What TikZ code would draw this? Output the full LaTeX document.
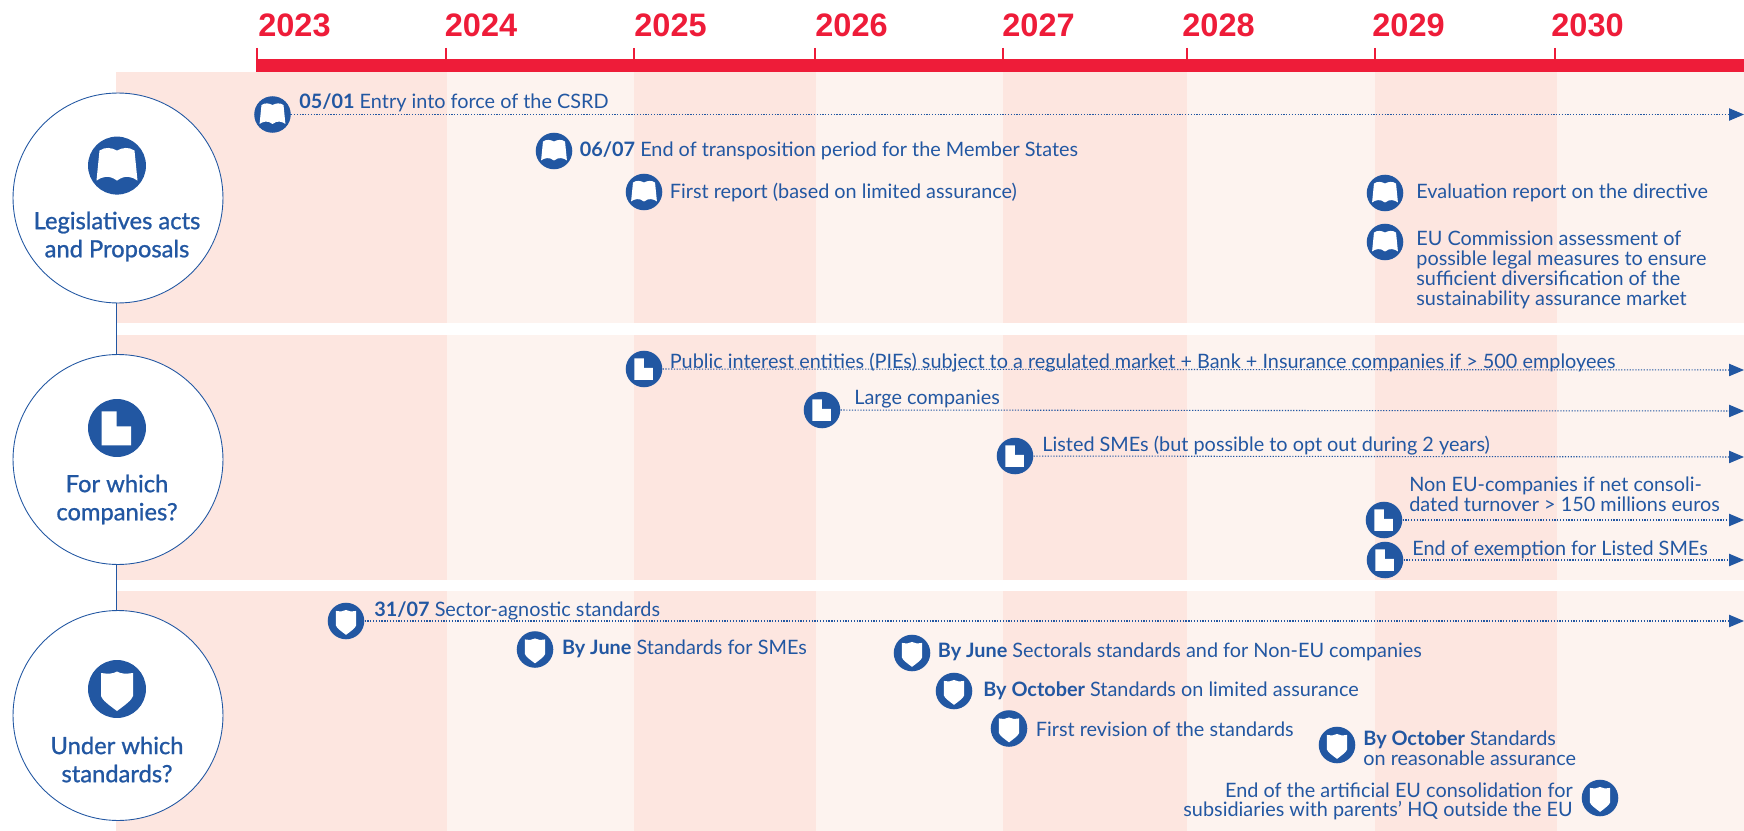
\documentclass[tikz,border=0pt]{standalone}
\usepackage{fontspec}
\setmainfont{Lato}
\newfontfamily\yearfont{Liberation Sans}
\newfontfamily\topicfont[FakeBold=1]{Lato}
\usepackage{tikz}
\usetikzlibrary{arrows.meta}
\usepackage{xcolor}
\definecolor{csrdblue}{HTML}{2257A2}
\definecolor{csrdred}{HTML}{EE1C39}
\definecolor{banddark}{HTML}{FDE6E0}
\definecolor{bandlight}{HTML}{FDF3EF}
\tikzstyle{arrow} = [csrdblue,line width=0.6pt,dash pattern=on 0.7pt off 0.9pt,-{Triangle[length=8.5pt,width=7pt]}]
\tikzstyle{tick} = [csrdred,line width=1.3pt]
\tikzstyle{year} = [text=csrdred,font=\yearfont\bfseries\fontsize{18.5}{20}\selectfont,anchor=west,inner sep=0pt]
\tikzstyle{note} = [text=csrdblue,font=\fontsize{11.3}{11.3}\selectfont,anchor=west,align=left,inner sep=0pt,yshift=0.6pt]
\tikzstyle{topic} = [circle,draw=csrdblue,fill=white,line width=0.5pt,minimum size=119.5pt,inner sep=0pt]
\tikzstyle{topiclabel} = [text=csrdblue,font=\topicfont\fontsize{13.5}{16}\selectfont,align=center,inner sep=0pt]
\tikzstyle{dot} = [circle,fill=csrdblue,minimum size=20.8pt,inner sep=0pt]
\tikzstyle{bigdot} = [circle,fill=csrdblue,minimum size=33pt,inner sep=0pt]
\tikzset{
  bookicon/.pic={\fill[white] (-17.5,-15) .. controls (-12,-19) and (-5,-18) .. (0,-15)
    .. controls (5,-18) and (12,-19) .. (17.5,-15) -- (20.5,15)
    .. controls (15,11) and (8,9) .. (0,15) .. controls (-8,9) and (-15,11) .. (-20.5,15) -- cycle;},
  blockicon/.pic={\fill[white] (-15.3,-16.7) -- (-0.3,-16.7) -- (-0.3,-1.7) -- (14,-1.7)
    -- (14,17.3) -- (-15.3,17.3) -- cycle;},
  shieldicon/.pic={\fill[white] (-16,-16) .. controls (-9,-15) and (-4,-15) .. (0,-17.5)
    .. controls (4,-15) and (9,-15) .. (16,-16) -- (16,7) .. controls (15,11) and (8,16) .. (0,22)
    .. controls (-8,16) and (-15,11) .. (-16,7) -- cycle;},
  small/.style={scale=0.63}
}

\begin{document}
\begin{tikzpicture}[x=0.02cm,y=-0.02cm]
    \useasboundingbox (0,0) rectangle (1744,831);

    % Bands
    \fill[banddark] (116,72) rectangle (447,323);
    \fill[bandlight] (447,72) rectangle (634,323);
    \fill[banddark] (634,72) rectangle (816,323);
    \fill[bandlight] (816,72) rectangle (1003,323);
    \fill[banddark] (1003,72) rectangle (1187,323);
    \fill[bandlight] (1187,72) rectangle (1375,323);
    \fill[banddark] (1375,72) rectangle (1557,323);
    \fill[bandlight] (1557,72) rectangle (1744,323);

    \fill[banddark] (116,335) rectangle (447,580);
    \fill[bandlight] (447,335) rectangle (634,580);
    \fill[banddark] (634,335) rectangle (816,580);
    \fill[bandlight] (816,335) rectangle (1003,580);
    \fill[banddark] (1003,335) rectangle (1187,580);
    \fill[bandlight] (1187,335) rectangle (1375,580);
    \fill[banddark] (1375,335) rectangle (1557,580);
    \fill[bandlight] (1557,335) rectangle (1744,580);

    \fill[banddark] (116,591) rectangle (447,831);
    \fill[bandlight] (447,591) rectangle (634,831);
    \fill[banddark] (634,591) rectangle (816,831);
    \fill[bandlight] (816,591) rectangle (1003,831);
    \fill[banddark] (1003,591) rectangle (1187,831);
    \fill[bandlight] (1187,591) rectangle (1375,831);
    \fill[banddark] (1375,591) rectangle (1557,831);
    \fill[bandlight] (1557,591) rectangle (1744,831);

    % Red axis
    \fill[csrdred] (257,59) rectangle (1744,72);
    \draw[tick] (257,48) -- (257,72);
    \draw[tick] (446,48) -- (446,72);
    \draw[tick] (634,48) -- (634,72);
    \draw[tick] (815,48) -- (815,72);
    \draw[tick] (1003,48) -- (1003,72);
    \draw[tick] (1187,48) -- (1187,72);
    \draw[tick] (1375,48) -- (1375,72);
    \draw[tick] (1555,48) -- (1555,72);
    \node[year] (y2023) at (258,25) {2023};
    \node[year] (y2024) at (444.5,25) {2024};
    \node[year] (y2025) at (634,25) {2025};
    \node[year] (y2026) at (815,25) {2026};
    \node[year] (y2027) at (1002,25) {2027};
    \node[year] (y2028) at (1182,25) {2028};
    \node[year] (y2029) at (1372,25) {2029};
    \node[year] (y2030) at (1551,25) {2030};

    % Left circles
    \node[topic] (legal) at (118,198) {};
    \node[topic] (companies) at (118,459.5) {};
    \node[topic] (standards) at (118,715.5) {};
    \draw[csrdblue,line width=0.5pt] ([xshift=-1pt]legal.south) -- ([xshift=-1pt]companies.north);
    \draw[csrdblue,line width=0.5pt] ([xshift=-1pt]companies.south) -- ([xshift=-1pt]standards.north);

    \node[bigdot] (legalicon) at (117,165.6) {};
    \pic at (legalicon) {bookicon};
    \node[topiclabel] (legaltext) at (117,236.5) {Legislatives acts\\and Proposals};
    \node[bigdot] (companiesicon) at (117,428) {};
    \pic at (companiesicon) {blockicon};
    \node[topiclabel] (companiestext) at (117,499.5) {For which\\companies?};
    \node[bigdot] (standardsicon) at (117,689) {};
    \pic at (standardsicon) {shieldicon};
    \node[topiclabel] (standardstext) at (117,759.5) {Under which\\standards?};

    % Legislative acts
    \coordinate (a1end) at (1744,114.5);
    \node[dot] (a1) at (272.5,114.5) {};
    \pic[small] at (a1) {bookicon};
    \draw[arrow] (a1) -- (a1end);
    \node[note] (a1text) at (299,104) {\textbf{05/01} Entry into force of the CSRD};

    \node[dot] (a2) at (554,151) {};
    \pic[small] at (a2) {bookicon};
    \node[note] (a2text) at (579.5,152) {\textbf{06/07} End of transposition period for the Member States};

    \node[dot] (a3) at (644,192) {};
    \pic[small] at (a3) {bookicon};
    \node[note] (a3text) at (669.5,193.5) {First report (based on limited assurance)};

    \node[dot] (a4) at (1385,193) {};
    \pic[small] at (a4) {bookicon};
    \node[note] (a4text) at (1416,194) {Evaluation report on the directive};

    \node[dot] (a5) at (1385,242) {};
    \pic[small] at (a5) {bookicon};
    \node[note] (a5text) at (1416,271) {EU Commission assessment of\\possible legal measures to ensure\\sufficient diversification of the\\sustainability assurance market};

    % Companies
    \coordinate (b1end) at (1744,370);
    \node[dot] (b1) at (644,369) {};
    \pic[small] at (b1) {blockicon};
    \draw[arrow] (b1) -- (b1end);
    \node[note] (b1text) at (669.5,364) {Public interest entities (PIEs) subject to a regulated market + Bank + Insurance companies if > 500 employees};

    \coordinate (b2end) at (1744,411);
    \node[dot] (b2) at (822,410) {};
    \pic[small] at (b2) {blockicon};
    \draw[arrow] (b2) -- (b2end);
    \node[note] (b2text) at (854,400) {Large companies};

    \coordinate (b3end) at (1744,457);
    \node[dot] (b3) at (1015,456) {};
    \pic[small] at (b3) {blockicon};
    \draw[arrow] (b3) -- (b3end);
    \node[note] (b3text) at (1042,447) {Listed SMEs (but possible to opt out during 2 years)};

    \coordinate (b4end) at (1744,520);
    \node[dot] (b4) at (1384,520) {};
    \pic[small] at (b4) {blockicon};
    \draw[arrow] (b4) -- (b4end);
    \node[note] (b4text) at (1409,495) {Non EU-companies if net consoli-\\dated turnover > 150 millions euros};

    \coordinate (b5end) at (1744,560);
    \node[dot] (b5) at (1385,560) {};
    \pic[small] at (b5) {blockicon};
    \draw[arrow] (b5) -- (b5end);
    \node[note] (b5text) at (1412,551) {End of exemption for Listed SMEs};

    % Standards
    \coordinate (c1end) at (1744,621);
    \node[dot] (c1) at (346,621) {};
    \pic[small] at (c1) {shieldicon};
    \draw[arrow] (c1) -- (c1end);
    \node[note] (c1text) at (374,611.5) {\textbf{31/07} Sector-agnostic standards};

    \node[dot] (c2) at (535,649.5) {};
    \pic[small] at (c2) {shieldicon};
    \node[note] (c2text) at (561.7,650) {\textbf{By June} Standards for SMEs};

    \node[dot] (c3) at (912,653) {};
    \pic[small] at (c3) {shieldicon};
    \node[note] (c3text) at (937.6,652.6) {\textbf{By June} Sectorals standards and for Non-EU companies};

    \node[dot] (c4) at (954,691) {};
    \pic[small] at (c4) {shieldicon};
    \node[note] (c4text) at (983,691.6) {\textbf{By October} Standards on limited assurance};

    \node[dot] (c5) at (1009,728.5) {};
    \pic[small] at (c5) {shieldicon};
    \node[note] (c5text) at (1035.5,730.5) {First revision of the standards};

    \node[dot] (c6) at (1337,745) {};
    \pic[small] at (c6) {shieldicon};
    \node[note] (c6text) at (1363,749) {\textbf{By October} Standards\\on reasonable assurance};

    \node[dot] (c7) at (1600,798) {};
    \pic[small] at (c7) {shieldicon};
    \node[note,anchor=east,align=right] (c7text) at (1573,802.5) {End of the artificial EU consolidation for\\subsidiaries with parents' HQ outside the EU};

\end{tikzpicture}
\end{document}
